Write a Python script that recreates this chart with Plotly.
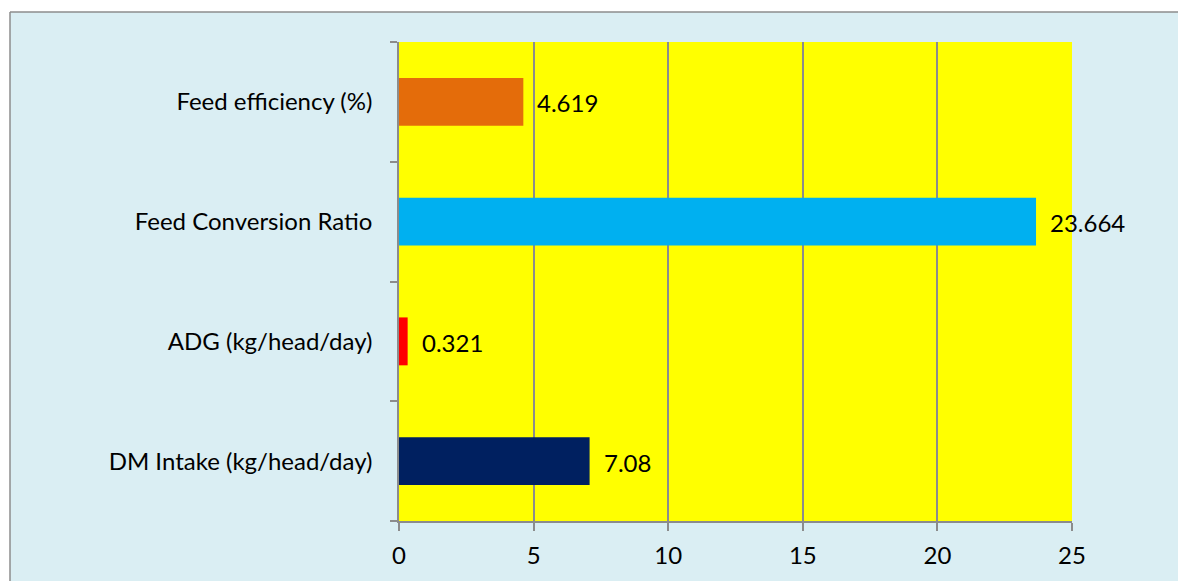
import plotly.graph_objects as go

# Feed performance indicators (bottom to top)
categories = ["DM Intake (kg/head/day)", "ADG (kg/head/day)",
              "Feed Conversion Ratio", "Feed efficiency (%)"]
values = [7.08, 0.321, 23.664, 4.619]
value_labels = ["7.08", "0.321", "23.664", "4.619"]
bar_colors = ["#002060", "#FF0000", "#00B0F0", "#E46C0A"]
x_ticks = [0, 5, 10, 15, 20, 25]

W, H = 1178, 581
L, R, T, B = 399, 106, 42, 60
pw, ph = W - L - R, H - T - B

def px_x(p):
    return (p - L) / pw

def px_y(p):
    return (H - B - p) / ph

font = "Lato, Carlito, Liberation Sans, sans-serif"
fsize = 24
grid = "#8C8C8C"

fig = go.Figure(go.Bar(
    x=values, y=categories, orientation="h",
    marker=dict(color=bar_colors, line=dict(width=0)),
    width=0.4, hoverinfo="skip",
))

for v, c, t in zip(values, categories, value_labels):
    fig.add_annotation(x=v, y=c, text=t, showarrow=False,
                       xanchor="left", xshift=12, yshift=-1,
                       font=dict(family=font, size=fsize, color="#000000"))

# white page margin around the chart frame, plus the frame edges
fig.add_shape(type="rect", xref="paper", yref="paper", layer="above",
              x0=px_x(-5), x1=px_x(W + 5), y0=px_y(12), y1=px_y(-5),
              fillcolor="#FFFFFF", line=dict(width=0))
fig.add_shape(type="rect", xref="paper", yref="paper", layer="above",
              x0=px_x(-5), x1=px_x(10), y0=px_y(H + 5), y1=px_y(-5),
              fillcolor="#FFFFFF", line=dict(width=0))
fig.add_shape(type="line", xref="paper", yref="paper", layer="above",
              x0=px_x(10), x1=px_x(W + 5), y0=px_y(12), y1=px_y(12),
              line=dict(color=grid, width=1.5))
fig.add_shape(type="line", xref="paper", yref="paper", layer="above",
              x0=px_x(10), x1=px_x(10), y0=px_y(12), y1=px_y(H + 5),
              line=dict(color=grid, width=1.5))

fig.update_layout(
    width=W, height=H,
    margin=dict(l=L, r=R, t=T, b=B, pad=0, autoexpand=False),
    paper_bgcolor="#DAEEF3", plot_bgcolor="#FFFF00",
    showlegend=False, bargap=0.6,
    xaxis=dict(range=[0, 25], tickvals=x_ticks, ticktext=[str(t) for t in x_ticks],
               showgrid=True, gridcolor=grid, gridwidth=1.5,
               showline=True, linecolor=grid, linewidth=1.5,
               ticks="outside", ticklen=8, tickcolor=grid, tickwidth=1.5,
               tickfont=dict(family=font, size=fsize, color="#000000"),
               ticklabelstandoff=4, zeroline=False, fixedrange=True,
               automargin=False),
    yaxis=dict(categoryorder="array", categoryarray=categories,
               showline=True, linecolor=grid, linewidth=1.5,
               ticks="outside", tickson="boundaries", ticklen=7,
               tickcolor=grid, tickwidth=1.5, showgrid=False,
               tickfont=dict(family=font, size=fsize, color="#000000"),
               ticklabelstandoff=20, fixedrange=True, automargin=False),
)

fig.write_html("out.html", config={"displayModeBar": False})
